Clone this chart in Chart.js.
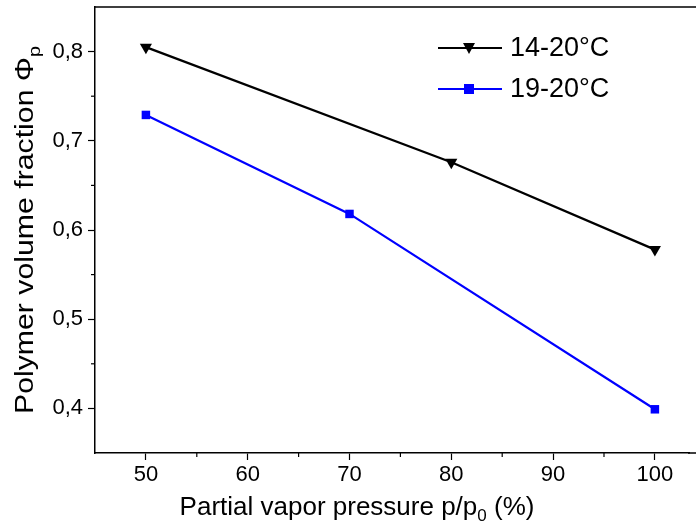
<!DOCTYPE html>
<html>
<head>
<meta charset="utf-8">
<script src="https://cdn.jsdelivr.net/npm/chart.js@4.4.1/dist/chart.umd.min.js"></script>
<style>
  html, body { margin: 0; padding: 0; background: #fff; }
  #wrap { width: 696px; height: 529px; }
</style>
</head>
<body>
<div id="wrap"><canvas id="myChart" width="696" height="529"></canvas></div>
<script>
// data
const pressure1 = [50, 80, 100];
const fraction1 = [0.805, 0.676, 0.578];
const pressure2 = [50, 70, 100];
const fraction2 = [0.729, 0.618, 0.399];
const seriesNames = ['14-20\u00B0C', '19-20\u00B0C'];
const xTicks = [50, 60, 70, 80, 90, 100];
const yTicks = [0.4, 0.5, 0.6, 0.7, 0.8];
const xMinor = [55, 65, 75, 85, 95];
const yMinor = [0.45, 0.55, 0.65, 0.75];

const FONT = '"Liberation Sans", Arial, sans-serif';

function toPoints(xs, ys) {
  return xs.map(function (x, i) { return { x: x, y: ys[i] }; });
}

// frame, minor ticks, axis titles with subscripts, legend
const extras = {
  id: 'extras',
  afterDraw(chart) {
    const ctx = chart.ctx;
    const a = chart.chartArea;
    const xs = chart.scales.x;
    const ys = chart.scales.y;
    ctx.save();
    ctx.strokeStyle = '#000';
    ctx.lineWidth = 1.5;
    ctx.beginPath();
    ctx.moveTo(a.left, a.top);
    ctx.lineTo(chart.width, a.top);
    // frame runs off the right edge of the picture
    ctx.moveTo(a.right - 1, a.bottom);
    ctx.lineTo(chart.width, a.bottom);
    ctx.stroke();

    ctx.lineWidth = 1.2;
    xMinor.forEach(function (v) {
      const px = xs.getPixelForValue(v);
      ctx.beginPath();
      ctx.moveTo(px, a.bottom);
      ctx.lineTo(px, a.bottom + 4);
      ctx.stroke();
    });
    yMinor.forEach(function (v) {
      const py = ys.getPixelForValue(v);
      ctx.beginPath();
      ctx.moveTo(a.left, py);
      ctx.lineTo(a.left - 4, py);
      ctx.stroke();
    });

    // x title
    ctx.fillStyle = '#000';
    ctx.textBaseline = 'alphabetic';
    ctx.textAlign = 'left';
    const big = '26px ' + FONT;
    const small = '17px ' + FONT;
    ctx.font = big;
    const p1 = 'Partial vapor pressure p/p';
    const p2 = ' (%)';
    ctx.font = small;
    const wSub = ctx.measureText('0').width;
    ctx.font = big;
    const w1 = ctx.measureText(p1).width;
    const w2 = ctx.measureText(p2).width;
    let x0 = 357 - (w1 + wSub + w2) / 2;
    const by = 515;
    ctx.fillText(p1, x0, by);
    ctx.font = small;
    ctx.fillText('0', x0 + w1, by + 6);
    ctx.font = big;
    ctx.fillText(p2, x0 + w1 + wSub, by);

    // y title, stretched along its length to fit the reference span
    ctx.save();
    ctx.translate(33, 414);
    ctx.rotate(-Math.PI / 2);
    ctx.font = big;
    const t1 = 'Polymer volume fraction \u03A6';
    const wt = ctx.measureText(t1).width;
    ctx.font = small;
    const wp = ctx.measureText('p').width;
    ctx.scale(368 / (wt + wp), 1);
    ctx.font = big;
    ctx.fillText(t1, 0, 0);
    ctx.font = small;
    ctx.fillText('p', wt, 7);
    ctx.restore();

    // legend
    const items = [
      { y: 48, color: '#000', style: 'tri' },
      { y: 89, color: '#0000ff', style: 'sq' }
    ];
    items.forEach(function (it, i) {
      ctx.strokeStyle = it.color;
      ctx.fillStyle = it.color;
      ctx.lineWidth = 2.2;
      ctx.beginPath();
      ctx.moveTo(438, it.y);
      ctx.lineTo(502, it.y);
      ctx.stroke();
      const cx = 469;
      ctx.beginPath();
      if (it.style === 'tri') {
        ctx.moveTo(cx - 6, it.y - 5);
        ctx.lineTo(cx + 6, it.y - 5);
        ctx.lineTo(cx, it.y + 6);
      } else {
        ctx.rect(cx - 5, it.y - 5, 10, 10);
      }
      ctx.closePath();
      ctx.fill();
      ctx.fillStyle = '#000';
      ctx.font = '27px ' + FONT;
      ctx.textBaseline = 'middle';
      ctx.fillText(seriesNames[i], 510, it.y + 1);
      ctx.textBaseline = 'alphabetic';
    });
    ctx.restore();
  }
};

const config = {
  type: 'scatter',
  data: {
    datasets: [{
      label: seriesNames[0],
      data: toPoints(pressure1, fraction1),
      showLine: true,
      borderColor: '#000',
      backgroundColor: '#000',
      borderWidth: 2.2,
      pointStyle: 'triangle',
      pointRotation: 180,
      pointRadius: 7,
      pointBorderWidth: 0
    }, {
      label: seriesNames[1],
      data: toPoints(pressure2, fraction2),
      showLine: true,
      borderColor: '#0000ff',
      backgroundColor: '#0000ff',
      borderWidth: 2.2,
      pointStyle: 'rect',
      pointRadius: 6,
      pointBorderWidth: 0
    }]
  },
  options: {
    responsive: false,
    animation: false,
    layout: { padding: { top: 7, right: 0, left: 0, bottom: 0 } },
    plugins: { legend: { display: false }, tooltip: { enabled: false } },
    scales: {
      x: {
        type: 'linear',
        min: 45,
        max: 103.35,
        afterBuildTicks: function (s) { s.ticks = xTicks.map(function (v) { return { value: v }; }); },
        afterFit: function (s) { s.height = 76; s.paddingLeft = 0; s.paddingRight = 0; },
        grid: { drawOnChartArea: false, tickLength: 7, tickColor: '#000', tickWidth: 1.2 },
        border: { color: '#000', width: 1.5 },
        ticks: { color: '#000', font: { family: FONT, size: 22 }, padding: 2, maxRotation: 0 }
      },
      y: {
        min: 0.35,
        max: 0.85,
        afterBuildTicks: function (s) { s.ticks = yTicks.map(function (v) { return { value: v }; }); },
        afterFit: function (s) { s.width = 95; s.paddingTop = 0; s.paddingBottom = 0; },
        grid: { drawOnChartArea: false, tickLength: 7, tickColor: '#000', tickWidth: 1.2 },
        border: { color: '#000', width: 1.5 },
        ticks: {
          color: '#000',
          font: { family: FONT, size: 22 },
          padding: 5,
          callback: function (v) { return v.toFixed(1).replace('.', ','); }
        }
      }
    }
  },
  plugins: [extras]
};

const myChart = new Chart(document.getElementById('myChart'), config);
</script>
</body>
</html>
